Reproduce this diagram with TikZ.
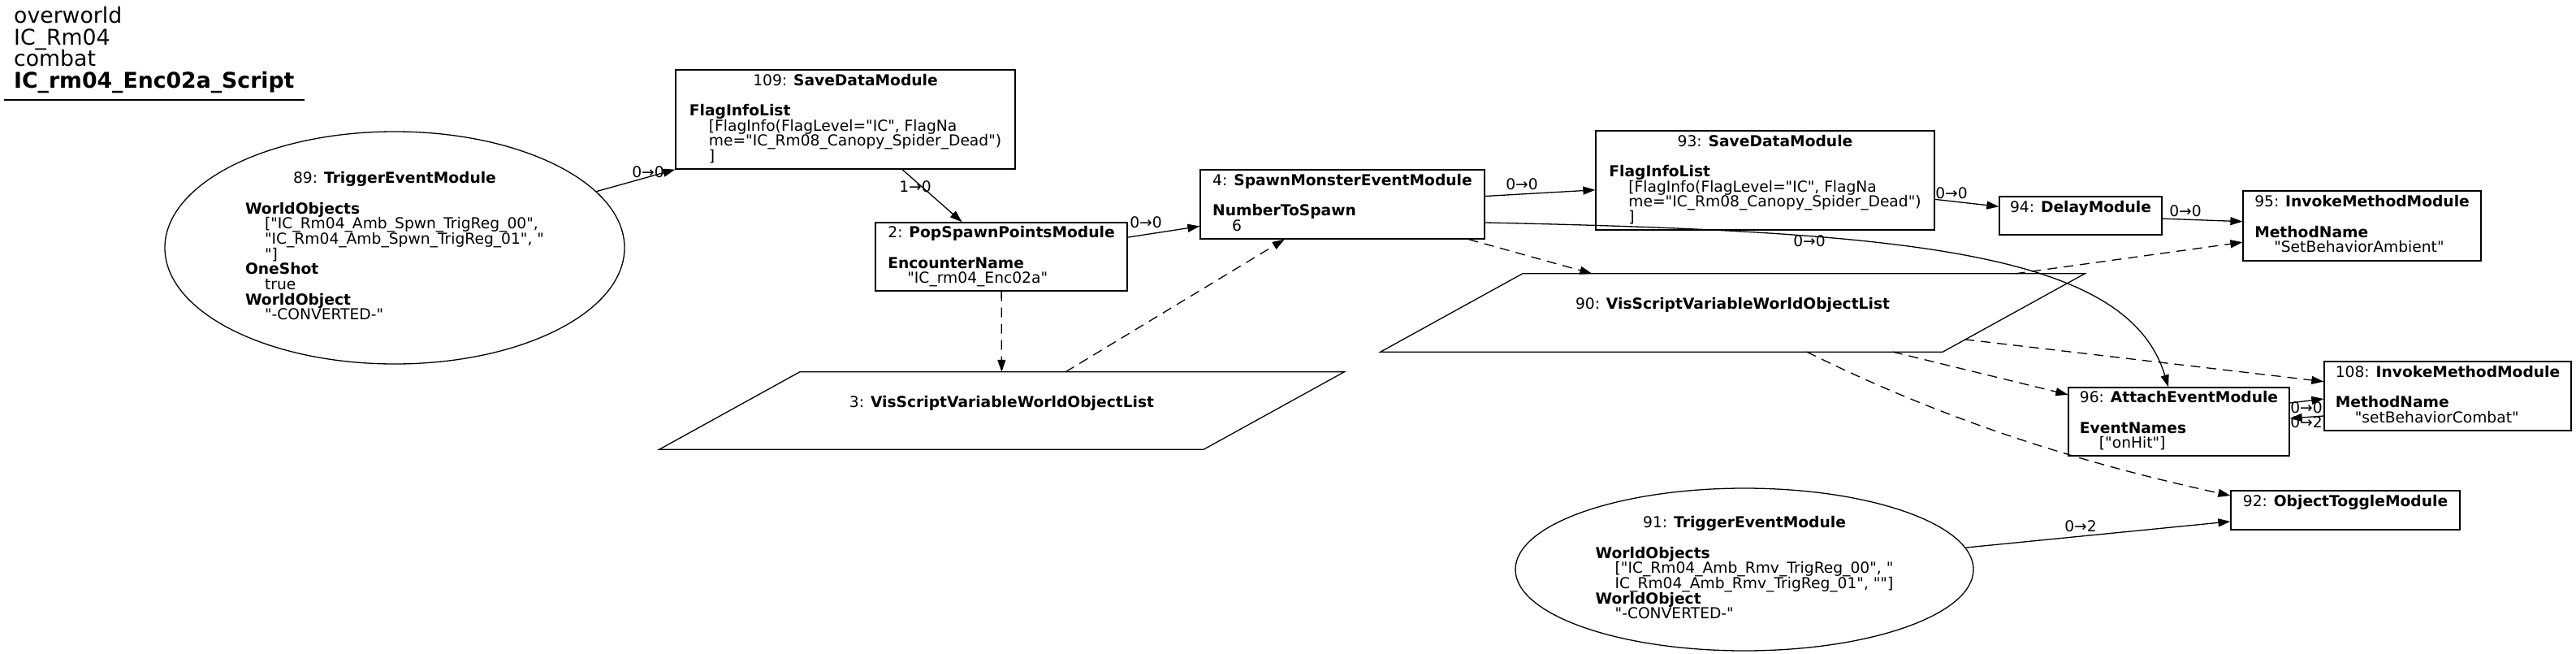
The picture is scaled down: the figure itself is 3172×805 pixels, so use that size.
\documentclass[tikz,border=0pt]{standalone}
\usepackage{fontspec}
\usepackage{array}
\setmainfont{DejaVu Sans}[Ligatures=TeXOff]
\usetikzlibrary{arrows.meta,shapes.geometric}

\newcommand{\nodefont}{\fontsize{18.67}{18.67}\selectfont}
\newcommand{\ttlfont}{\fontsize{26.7}{26.7}\selectfont}
\newcommand{\rowstrut}{\rule[-4.5pt]{0pt}{18.67pt}}
\newcommand{\mhd}[2]{\multicolumn{1}{@{}>{\rowstrut}c@{}}{#1: \textbf{#2}}}
\newcommand{\ind}{\hspace*{24pt}}
\newcommand{\modtext}[1]{{\renewcommand{\arraystretch}{0}%
    \begin{tabular}{@{}>{\rowstrut}l@{}}#1\end{tabular}}}

\tikzset{
    mod/.style = {draw, rectangle, line width=1.3pt, inner sep=0pt, font=\nodefont},
    trig/.style = {draw, ellipse, line width=1.3pt, inner sep=0pt, font=\nodefont},
    var/.style = {rectangle, inner sep=0pt, font=\nodefont},
    ttl/.style = {inner sep=0pt, font=\ttlfont, anchor=base west},
    lbl/.style = {inner sep=0pt, font=\nodefont},
    arr/.style = {line width=1.3pt, -{Triangle[length=15pt,width=10pt]}},
    dsh/.style = {arr, dash pattern=on 12pt off 8pt}
}

\begin{document}
\begin{tikzpicture}[x=1pt, y=-1pt]
    \useasboundingbox (0,0) rectangle (3172,805);

    % title
    \node[ttl] (t1) at (17,29) {overworld};
    \node[ttl] (t2) at (17,55.5) {IC\_Rm04};
    \node[ttl] (t3) at (17,82) {combat};
    \node[ttl, font=\ttlfont\bfseries] (t4) at (17,108.5) {IC\_rm04\_Enc02a\_Script};
    \draw[line width=1.3pt] (5,123) -- (375,123);

    % modules
    \node[trig, minimum width=566pt, minimum height=286pt] (n89) at (486,305) {\modtext{%
        \mhd{89}{TriggerEventModule}\\ \\
        \textbf{WorldObjects}\\
        \ind["IC\_Rm04\_Amb\_Spwn\_TrigReg\_00",\\
        \ind"IC\_Rm04\_Amb\_Spwn\_TrigReg\_01", "\\
        \ind"]\\
        \textbf{OneShot}\\
        \ind true\\
        \textbf{WorldObject}\\
        \ind"-CONVERTED-"}};
    \node[mod, minimum width=418pt, minimum height=122pt] (n109) at (1041,147) {\modtext{%
        \mhd{109}{SaveDataModule}\\ \\
        \textbf{FlagInfoList}\\
        \ind[FlagInfo(FlagLevel="IC", FlagNa\\
        \ind me="IC\_Rm08\_Canopy\_Spider\_Dead")\\
        \ind]}};
    \node[mod, minimum width=310pt, minimum height=84pt] (n2) at (1233,316) {\modtext{%
        \mhd{2}{PopSpawnPointsModule}\\ \\
        \textbf{EncounterName}\\
        \ind"IC\_rm04\_Enc02a"}};
    \node[var, minimum width=843pt, minimum height=95pt] (n3) at (1233.5,505.5) {\modtext{%
        \mhd{3}{VisScriptVariableWorldObjectList}\\ \mbox{}}};
    \draw[line width=1.3pt] (n3.south west) -- ([xshift=-173pt]n3.south east) -- (n3.north east)
        -- ([xshift=173pt]n3.north west) -- cycle;
    \node[mod, minimum width=350pt, minimum height=85pt] (n4) at (1653,251.5) {\modtext{%
        \mhd{4}{SpawnMonsterEventModule}\\ \\
        \textbf{NumberToSpawn}\\
        \ind 6}};
    \node[mod, minimum width=417pt, minimum height=122pt] (n93) at (2173.5,222) {\modtext{%
        \mhd{93}{SaveDataModule}\\ \\
        \textbf{FlagInfoList}\\
        \ind[FlagInfo(FlagLevel="IC", FlagNa\\
        \ind me="IC\_Rm08\_Canopy\_Spider\_Dead")\\
        \ind]}};
    \node[mod, minimum width=200pt, minimum height=47pt] (n94) at (2562,265.5) {\modtext{%
        \mhd{94}{DelayModule}\\ \mbox{}}};
    \node[mod, minimum width=293pt, minimum height=86pt] (n95) at (2908.5,278) {\modtext{%
        \mhd{95}{InvokeMethodModule}\\ \\
        \textbf{MethodName}\\
        \ind"SetBehaviorAmbient"}};
    \node[var, minimum width=867pt, minimum height=96pt] (n90) at (2133.5,385) {\modtext{%
        \mhd{90}{VisScriptVariableWorldObjectList}\\ \mbox{}}};
    \draw[line width=1.3pt] (n90.south west) -- ([xshift=-175pt]n90.south east) -- (n90.north east)
        -- ([xshift=175pt]n90.north west) -- cycle;
    \node[mod, minimum width=304pt, minimum height=85pt] (n108) at (3014,487.5) {\modtext{%
        \mhd{108}{InvokeMethodModule}\\ \\
        \textbf{MethodName}\\
        \ind"setBehaviorCombat"}};
    \node[mod, minimum width=272pt, minimum height=84pt] (n96) at (2683,519) {\modtext{%
        \mhd{96}{AttachEventModule}\\ \\
        \textbf{EventNames}\\
        \ind["onHit"]}};
    \node[mod, minimum width=282pt, minimum height=48pt] (n92) at (2888,628) {\modtext{%
        \mhd{92}{ObjectToggleModule}\\ \mbox{}}};
    \node[trig, minimum width=564pt, minimum height=200pt] (n91) at (2148,701) {\modtext{%
        \mhd{91}{TriggerEventModule}\\ \\
        \textbf{WorldObjects}\\
        \ind["IC\_Rm04\_Amb\_Rmv\_TrigReg\_00", "\\
        \ind IC\_Rm04\_Amb\_Rmv\_TrigReg\_01", ""]\\
        \textbf{WorldObject}\\
        \ind"-CONVERTED-"}};

    % links
    \draw[arr] (n89) -- (n109.south west) node[lbl] (l1) at (798,212) {0→0};
    \draw[arr] (n109) -- (n2) node[lbl] (l2) at (1127,230) {1→0};
    \draw[arr] (n2) -- (n4) node[lbl] (l3) at (1411,274) {0→0};
    \draw[arr] (n4) -- (n93) node[lbl] (l4) at (1874,227) {0→0};
    \draw[arr] (n93) -- (n94) node[lbl] (l5) at (2403,238) {0→0};
    \draw[arr] (n94) -- (n95) node[lbl] (l6) at (2691,260) {0→0};
    \draw[arr] ([yshift=-22.5pt]n4.east) .. controls (2350,285) and (2620,310) .. ([xshift=-13pt]n96.north)
        node[lbl] (l7) at (2228,297) {0→0};
    \draw[arr] ([yshift=23pt]n96.east) -- ([yshift=-3.5pt]n108.west) node[lbl] (l8) at (2840,502) {0→0};
    \draw[arr] ([yshift=-24.5pt]n108.west) -- ([yshift=4pt]n96.east) node[lbl] (l9) at (2840,520) {0→2};
    \draw[arr] (n91) -- (n92) node[lbl] (l10) at (2562,648) {0→2};

    % variables
    \draw[dsh] (n2) -- (n3);
    \draw[dsh] (n3) -- (n4);
    \draw[dsh] (n4) -- (n90);
    \draw[dsh] (n90) -- (n95);
    \draw[dsh] ([xshift=-148pt,yshift=-81pt]n90.north east) -- (n108);
    \draw[dsh] (n90) -- (n96);
    \draw[dsh] ([xshift=91.5pt]n90.south) .. controls (2380,510) and (2540,565) .. ([yshift=18pt]n92.west);
\end{tikzpicture}
\end{document}
